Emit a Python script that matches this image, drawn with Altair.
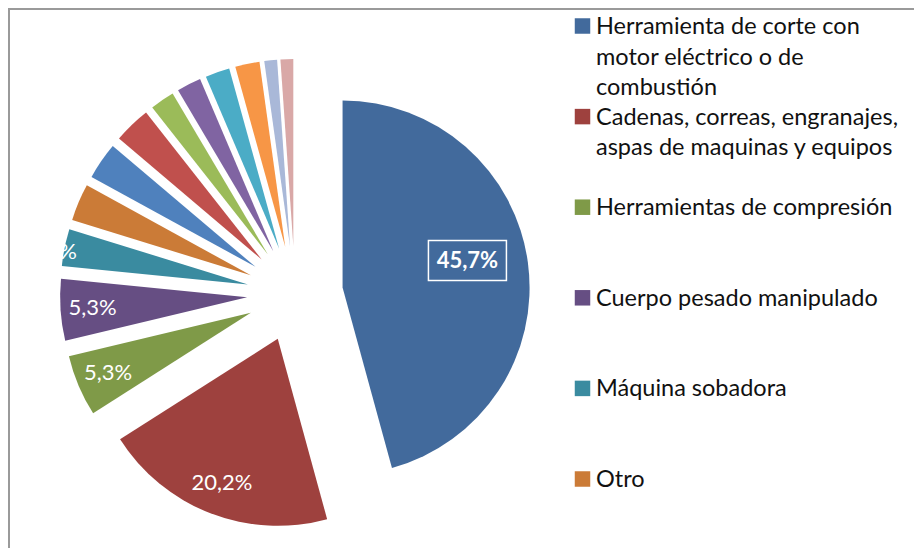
import altair as alt
import pandas as pd

categories = [
    "Herramienta de corte con motor eléctrico o de combustión",
    "Cadenas, correas, engranajes, aspas de maquinas y equipos",
    "Herramientas de compresión",
    "Cuerpo pesado manipulado",
    "Máquina sobadora",
    "Otro",
    "Categoría 7",
    "Categoría 8",
    "Categoría 9",
    "Categoría 10",
    "Categoría 11",
    "Categoría 12",
    "Categoría 13",
    "Categoría 14",
]
percentages = [45.7, 20.2, 5.3, 5.3, 3.2, 3.2, 3.2, 3.2, 2.1, 2.1, 2.1, 2.1, 1.1, 1.1]
colors = [
    "#426A9C", "#9E413E", "#7F9A48", "#664E83", "#3A8BA0", "#CB7B37",
    "#4F81BD", "#C0504D", "#9BBB59", "#8064A2", "#4BACC6", "#F79646",
    "#A9B8D8", "#D9A8A7",
]
legend_labels = [
    "Herramienta de corte con\nmotor eléctrico o de\ncombustión",
    "Cadenas, correas, engranajes,\naspas de maquinas  y equipos",
    "Herramientas de compresión",
    "Cuerpo pesado manipulado",
    "Máquina sobadora",
    "Otro",
]

df = pd.DataFrame({"idx": list(range(len(categories))), "cat": categories, "pct": percentages})
leg = pd.DataFrame({"idx": list(range(len(legend_labels))), "cat": categories[:len(legend_labels)],
                    "label": legend_labels})

CX, CY, R, EXPL = 287, 286, 187, 48
FONT = "Lato"

color_scale = alt.Scale(domain=categories, range=colors)

base = (
    alt.Chart(df)
    .transform_window(cum="sum(pct)", sort=[alt.SortField("idx")], frame=[None, 0])
    .transform_joinaggregate(total="sum(pct)")
    .transform_calculate(t0="(datum.cum - datum.pct) / datum.total * 2 * PI")
    .transform_calculate(t1="datum.cum / datum.total * 2 * PI")
    .transform_calculate(mid="(datum.t0 + datum.t1) / 2")
    .transform_calculate(cx=f"{CX} + {EXPL} * sin(datum.mid)")
    .transform_calculate(cy=f"{CY} - {EXPL} * cos(datum.mid)")
    .transform_calculate(label="replace(format(datum.pct, '.1f'), '.', ',') + '%'")
)

arcs = base.mark_arc(outerRadius=R).encode(
    theta=alt.Theta("t0:Q", scale=None, stack=None),
    theta2="t1:Q",
    x=alt.X("cx:Q", scale=None),
    y=alt.Y("cy:Q", scale=None),
    color=alt.Color("cat:N", scale=color_scale, legend=None),
)

labels = (
    base.transform_filter("datum.idx >= 1 && datum.idx <= 4")
    .transform_calculate(lr="datum.idx == 4 ? 199 : 155")
    .transform_calculate(lx="datum.cx + datum.lr * sin(datum.mid)")
    .transform_calculate(ly="datum.cy - datum.lr * cos(datum.mid) + (datum.idx == 4 ? 7 : 0)")
    .mark_text(color="white", font=FONT, fontSize=22)
    .encode(x=alt.X("lx:Q", scale=None), y=alt.Y("ly:Q", scale=None), text="label:N")
)

big = (
    base.transform_filter("datum.idx == 0")
    .transform_calculate(lx="datum.cx + 128 * sin(datum.mid) - 2")
    .transform_calculate(ly="datum.cy - 128 * cos(datum.mid) - 10")
    .transform_calculate(bx1="datum.lx - 39", bx2="datum.lx + 39",
                         by1="datum.ly - 20", by2="datum.ly + 20")
)
big_box = big.mark_rect(fill="transparent", stroke="white", strokeWidth=1.5).encode(
    x=alt.X("bx1:Q", scale=None), x2="bx2:Q",
    y=alt.Y("by1:Q", scale=None), y2="by2:Q",
)
big_text = big.mark_text(color="white", font=FONT, fontSize=22, fontWeight="bold").encode(
    x=alt.X("lx:Q", scale=None), y=alt.Y("ly:Q", scale=None), text="label:N"
)

leg_y = alt.Y("idx:Q", scale=alt.Scale(domain=[0, 5], range=[18, 471]), axis=None)
leg_sq = alt.Chart(leg).mark_square(size=240, opacity=1).encode(
    x=alt.value(574.5), y=leg_y,
    color=alt.Color("cat:N", scale=color_scale, legend=None),
)
leg_txt = alt.Chart(leg).mark_text(
    align="left", baseline="alphabetic", lineBreak="\n", font=FONT, fontSize=23.5,
    lineHeight=30.5, dy=8, color="#111111",
).encode(x=alt.value(588), y=leg_y, text="label:N")

border_top = alt.Chart(df).mark_rule(color="#9a9a9a", strokeWidth=2).encode(
    x=alt.value(1), x2=alt.value(906), y=alt.value(1)
)
border_left = alt.Chart(df).mark_rule(color="#9a9a9a", strokeWidth=2).encode(
    x=alt.value(1), y=alt.value(0), y2=alt.value(540)
)

chart = (
    alt.layer(border_top, border_left, arcs, labels, big_box, big_text, leg_sq, leg_txt)
    .resolve_scale(x="independent", y="independent")
    .properties(width=906, height=540, autosize="none", padding=0)
    .configure_view(strokeWidth=0)
)

chart.save("out.html", embed_options={"renderer": "svg", "actions": False})
